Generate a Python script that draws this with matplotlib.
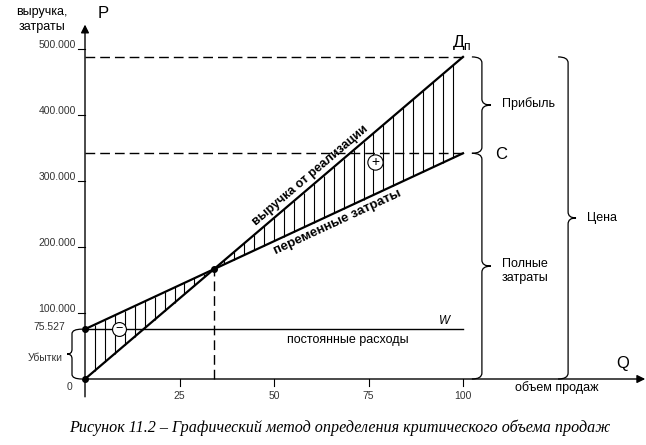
#!/usr/bin/env python3

import numpy as np
import matplotlib.pyplot as plt
from matplotlib.path import Path
from matplotlib.patches import PathPatch

# volume of sales (Q) and money (P)
q_points = [0, 100]
revenue = [0, 488000]
total_costs = [75527, 342000]
fixed_costs = 75527

x_ticks = [25, 50, 75, 100]
y_ticks = [100000, 200000, 300000, 400000, 500000]
y_tick_labels = ["100.000", "200.000", "300.000", "400.000", "500.000"]


def brace(ax, x, y0, y1, d_end, d_tip, r):
    ym = (y0 + y1) / 2
    verts = [(x + d_end, y1), (x, y1), (x, y1 - r), (x, ym + r), (x, ym),
             (x + d_tip, ym), (x, ym), (x, ym - r), (x, y0 + r), (x, y0),
             (x + d_end, y0)]
    codes = [Path.MOVETO, Path.CURVE3, Path.CURVE3, Path.LINETO, Path.CURVE3,
             Path.CURVE3, Path.CURVE3, Path.CURVE3, Path.LINETO, Path.CURVE3,
             Path.CURVE3]
    ax.add_patch(PathPatch(Path(verts, codes), fc="none", ec="black", lw=0.9))


def main():
    plt.rcParams['font.family'] = ['Liberation Sans', 'DejaVu Sans']

    fig = plt.figure(figsize=(6.46, 4.45), dpi=100)
    ax = fig.add_axes([0, 0, 1, 1])
    ax.set_xlim(-22.487, 148.41)
    ax.set_ylim(-100000, 574242)
    ax.axis('off')

    q = np.array(q_points, dtype=float)
    rev = np.array(revenue, dtype=float)
    cost = np.array(total_costs, dtype=float)

    # break-even point
    k_rev = (rev[1] - rev[0]) / (q[1] - q[0])
    k_cost = (cost[1] - cost[0]) / (q[1] - q[0])
    q_be = (cost[0] - rev[0]) / (k_rev - k_cost)
    p_be = rev[0] + k_rev * q_be

    # axes with arrows
    ax.annotate("", xy=(0, 537000), xytext=(0, -27000),
                arrowprops=dict(arrowstyle="-|>", color="black", lw=1,
                                mutation_scale=12, shrinkA=0, shrinkB=0))
    ax.annotate("", xy=(148.2, 0), xytext=(0, 0),
                arrowprops=dict(arrowstyle="-|>", color="black", lw=1,
                                mutation_scale=12, shrinkA=0, shrinkB=0))

    # ticks
    for t in x_ticks:
        ax.plot([t, t], [0, -10600], color="black", lw=0.8)
        ax.text(t, -25800, str(t), ha="center", va="center", fontsize=7.5, color="#333333")
    for t, lab in zip(y_ticks, y_tick_labels):
        ax.plot([-1.85, 0], [t, t], color="black", lw=0.8)
        ax.text(-2.38, t + 6000, lab, ha="right", va="center", fontsize=7.5, color="#333333")

    # hatching between revenue and costs
    hq = np.linspace(q[0], q[1], 39)[1:-1]
    ax.vlines(hq, np.interp(hq, q, rev), np.interp(hq, q, cost), color="black", lw=0.8)

    # dashed guides
    ax.plot([0, q[1]], [rev[1], rev[1]], color="black", lw=1, dashes=(7, 3.6))
    ax.plot([0, q[1]], [cost[1], cost[1]], color="black", lw=1, dashes=(7, 3.6))
    ax.plot([q_be, q_be], [0, p_be], color="black", lw=1, dashes=(7, 3.6))

    # fixed costs line
    ax.plot([0, q[1]], [fixed_costs, fixed_costs], color="black", lw=1)

    # main lines
    ax.plot(q, rev, color="black", lw=1.6)
    ax.plot(q, cost, color="black", lw=1.6)
    ax.plot([0, 0, q_be], [0, cost[0], p_be], "o", color="black", markersize=4, zorder=5)

    # loss / profit marks
    ax.plot([9.0], [fixed_costs], "o", mfc="white", mec="black", mew=0.8, markersize=10, zorder=6)
    ax.text(9.0, fixed_costs, "\u2212", ha="center", va="center", fontsize=9, zorder=7)
    ax.plot([76.7], [328800], "o", mfc="white", mec="black", mew=0.8, markersize=11, zorder=6)
    ax.text(76.7, 328800, "+", ha="center", va="center", fontsize=10, zorder=7)

    # labels along lines
    fig.canvas.draw()
    p0, p1 = ax.transData.transform([(q[0], rev[0]), (q[1], rev[1])])
    a_rev = np.degrees(np.arctan2(p1[1] - p0[1], p1[0] - p0[0]))
    p0, p1 = ax.transData.transform([(q[0], cost[0]), (q[1], cost[1])])
    a_cost = np.degrees(np.arctan2(p1[1] - p0[1], p1[0] - p0[0]))
    ax.text(59.5, 308000, "выручка от реализации", rotation=a_rev, rotation_mode="anchor",
            ha="center", va="center", fontsize=9, fontweight="bold")
    ax.text(66.9, 238000, "переменные затраты", rotation=a_cost, rotation_mode="anchor",
            ha="center", va="center", fontsize=9.5, fontweight="bold")

    # axis captions
    ax.text(-11.4, 545000, "выручка,\nзатраты", ha="center", va="center", fontsize=9, linespacing=1.3)
    ax.text(4.76, 554500, "P", ha="center", va="center", fontsize=12)
    ax.text(142.3, 24200, "Q", ha="center", va="center", fontsize=12)
    ax.text(124.9, -13600, "объем продаж", ha="center", va="center", fontsize=9)
    ax.text(-4.1, -12100, "0", ha="center", va="center", fontsize=7.5, color="#333333")
    ax.text(-5.3, fixed_costs + 4000, "75.527", ha="right", va="center", fontsize=7.5, color="#333333")
    ax.text(-5.8, 31800, "Убытки", ha="right", va="center", fontsize=7.5, color="#333333")
    ax.text(95.2, 87900, "W", ha="center", va="center", fontsize=8.5, style="italic")
    ax.text(69.6, 59100, "постоянные расходы", ha="center", va="center", fontsize=9)
    ax.text(99.6, 510600, "Д$_{\\mathregular{п}}$", ha="center", va="center", fontsize=12.5)
    ax.text(110.05, 340900, "C", ha="center", va="center", fontsize=12)
    ax.text(110.3, 416700, "Прибыль", ha="left", va="center", fontsize=9)
    ax.text(110.3, 163600, "Полные\nзатраты", ha="left", va="center", fontsize=9, linespacing=1.3)
    ax.text(132.8, 243900, "Цена", ha="left", va="center", fontsize=9)

    # braces
    brace(ax, 105.0, cost[1], rev[1], -2.65, 2.4, 9000)
    brace(ax, 105.0, 0, cost[1], -2.65, 2.4, 9000)
    brace(ax, 127.8, 0, rev[1], -2.65, 2.1, 9000)
    brace(ax, -3.44, 0, fixed_costs, 2.65, -1.3, 7000)

    ax.text(67.5, -74200, "Рисунок 11.2 – Графический метод определения критического объема продаж",
            ha="center", va="center", fontsize=11.6, style="italic", family="Liberation Serif")

    fig.savefig("out.png", dpi=100)


if __name__ == "__main__":
    main()
